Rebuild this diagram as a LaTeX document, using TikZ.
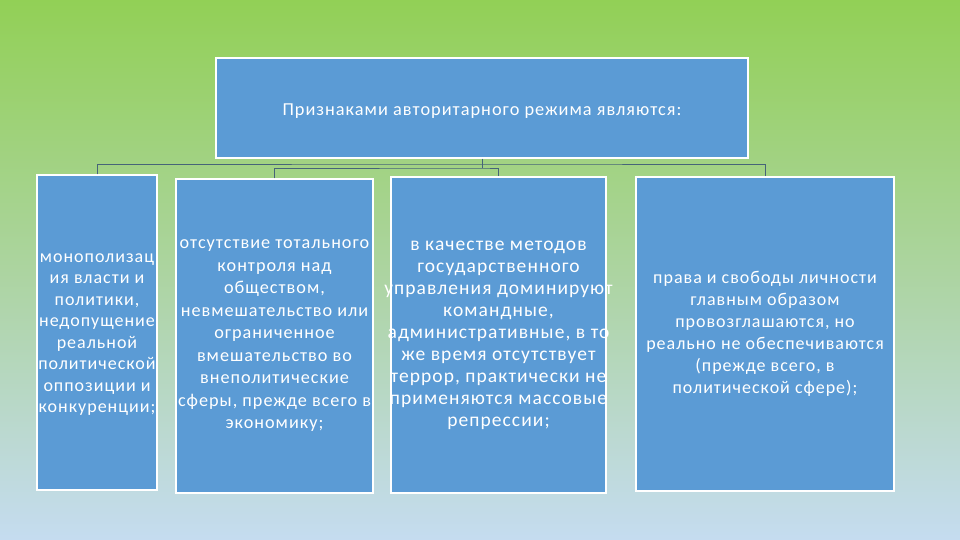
\documentclass[tikz,border=0pt]{standalone}
\usepackage{fontspec}
\setmainfont{Carlito}
\newfontfamily\boxfont[LetterSpace=5.5]{Carlito}
\definecolor{boxblue}{RGB}{91,155,213}
\definecolor{bgtop}{RGB}{146,208,86}
\definecolor{bgmid}{RGB}{172,212,160}
\definecolor{bgbot}{RGB}{197,220,240}
\definecolor{connc}{RGB}{70,100,120}
\tikzset{
  box/.style={draw=white, line width=1.3pt, fill=boxblue, inner sep=0pt},
  txt/.style={text=white, align=center, inner sep=0pt, font=\boxfont\fontsize{19.5}{22}\selectfont},
  conn/.style={draw=connc, line width=0.8pt}
}
\begin{document}
\begin{tikzpicture}[x=1pt,y=-1pt]
\shade[top color=bgtop, bottom color=bgbot, middle color=bgmid] (0,0) rectangle (960,540);
\useasboundingbox (0,0) rectangle (960,540);
\node[box, minimum width=532pt, minimum height=100pt] (top) at (482,108) {};
\node[box, minimum width=120pt, minimum height=315pt] (b1) at (97,332.5) {};
\node[box, minimum width=197pt, minimum height=314pt] (b2) at (274.5,336) {};
\node[box, minimum width=215pt, minimum height=316pt] (b3) at (498.5,335) {};
\node[box, minimum width=258pt, minimum height=314pt] (b4) at (765,334) {};
\node[txt, font=\boxfont\fontsize{18.3}{21}\selectfont] (ttop) at ([yshift=-3pt]top.center) {Признаками авторитарного режима являются:};
\node[txt, font=\boxfont\fontsize{18}{21.5}\selectfont] (t1) at ([yshift=-2pt]b1.center) {монополизац\\ия власти и\\политики,\\недопущение\\реальной\\политической\\оппозиции и\\конкуренции;};
\node[txt, font=\boxfont\fontsize{18.2}{22.5}\selectfont] (t2) at (b2.center) {отсутствие тотального\\контроля над\\обществом,\\невмешательство или\\ограниченное\\вмешательство во\\внеполитические\\сферы, прежде всего в\\экономику;};
\node[txt] (t3) at (b3.center) {в качестве методов\\государственного\\управления доминируют\\командные,\\административные, в то\\же время отсутствует\\террор, практически не\\применяются массовые\\репрессии;};
\node[txt, font=\boxfont\fontsize{18}{22}\selectfont] (t4) at (b4.center) {права и свободы личности\\главным образом\\провозглашаются, но\\реально не обеспечиваются\\(прежде всего, в\\политической сфере);};
\coordinate (j1) at (482,164);
\coordinate (j2) at (482,168);
\draw[conn] (top.south) -- (j2);
\draw[conn] (b1.north) |- (j1) -| (b4.north);
\draw[conn] (b2.north) |- (j2) -| (b3.north);
\end{tikzpicture}
\end{document}
